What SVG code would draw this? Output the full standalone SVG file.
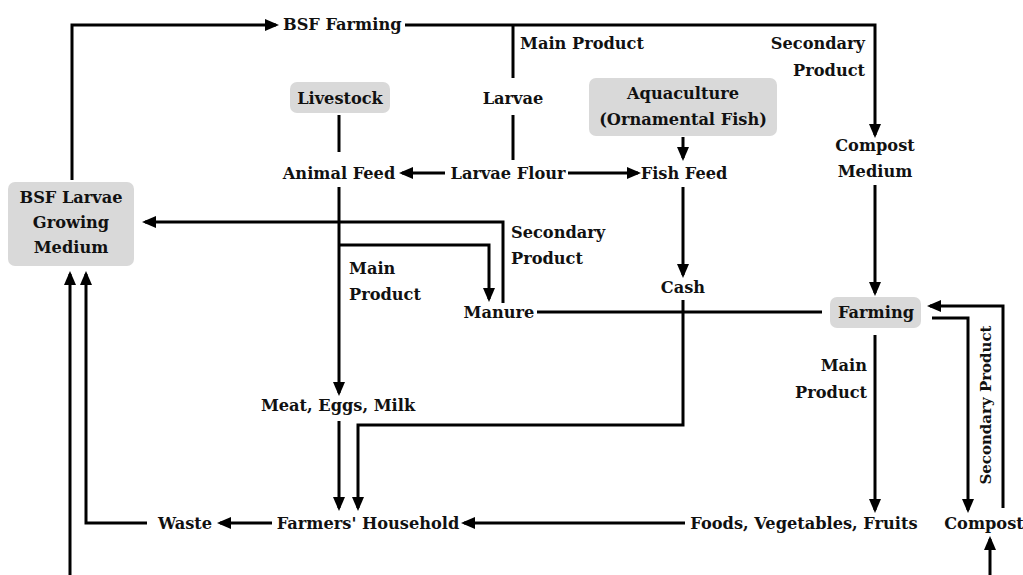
<svg xmlns="http://www.w3.org/2000/svg" width="1023" height="575" viewBox="0 0 1023 575">
<style>
text{font-family:"DejaVu Serif","Liberation Serif",serif;font-weight:bold;font-size:16.2px;fill:#111}
.m{text-anchor:middle}.e{text-anchor:end}
.box{fill:#d9d9d9}
.c path{fill:none;stroke:#000;stroke-width:3}
.a{marker-end:url(#ah)}
</style>
<defs>
<marker id="ah" markerUnits="userSpaceOnUse" markerWidth="14" markerHeight="13" refX="11" refY="6.5" orient="auto">
<path d="M0,0.5 L14,6.5 L0,12.5 z" fill="#000"/>
</marker>
</defs>
<rect width="1023" height="575" fill="#fff"/>
<g class="c" id="connectors">
<path class="a" d="M72,180 V25 H276"/>
<path class="a" d="M405,25 H875 V135"/>
<path d="M513,25 V78"/>
<path d="M513,115 V160"/>
<path class="a" d="M445,173 H402"/>
<path class="a" d="M568,173 H638"/>
<path d="M339,115 V152"/>
<path class="a" d="M339,187 V393"/>
<path class="a" d="M339,245 H489 V299"/>
<path class="a" d="M503,303 V222 H145"/>
<path d="M537,312 H822"/>
<path class="a" d="M683,137 V158"/>
<path class="a" d="M683,187 V275"/>
<path class="a" d="M683,300 V425 H358 V508"/>
<path class="a" d="M339,421 V508"/>
<path class="a" d="M685,523 H464"/>
<path class="a" d="M272,523 H220"/>
<path class="a" d="M147,523 H86 V274"/>
<path class="a" d="M70,575 V274"/>
<path class="a" d="M875,185 V293"/>
<path class="a" d="M875,335 V510"/>
<path class="a" d="M932,318 H968 V510"/>
<path class="a" d="M1003,508 V306 H930"/>
<path class="a" d="M990,575 V539"/>
</g>
<g id="labels">
<text x="520" y="49">Main Product</text>
<text class="e" x="865" y="49">Secondary</text>
<text class="e" x="865" y="76">Product</text>
<text x="511" y="238">Secondary</text>
<text x="511" y="264">Product</text>
<text x="349" y="274">Main</text>
<text x="349" y="300">Product</text>
<text class="e" x="867" y="371">Main</text>
<text class="e" x="867" y="398">Product</text>
<text class="m" style="font-size:15px" transform="translate(990.5,405) rotate(-90)">Secondary Product</text>
</g>
<g id="bsf-farming"><text x="283" y="30">BSF Farming</text></g>
<g id="bsf-larvae-medium">
<rect class="box" x="8" y="182" width="126" height="84" rx="7"/>
<text class="m" x="71" y="203">BSF Larvae</text>
<text class="m" x="71" y="228">Growing</text>
<text class="m" x="71" y="253">Medium</text>
</g>
<g id="livestock">
<rect class="box" x="290" y="82" width="100" height="31" rx="7"/>
<text class="m" x="340" y="104">Livestock</text>
</g>
<g id="larvae"><text class="m" x="513" y="104">Larvae</text></g>
<g id="aquaculture">
<rect class="box" x="589" y="78" width="188" height="58" rx="7"/>
<text class="m" x="683" y="99">Aquaculture</text>
<text class="m" x="683" y="125">(Ornamental Fish)</text>
</g>
<g id="compost-medium">
<text class="m" x="875" y="151">Compost</text>
<text class="m" x="875" y="177">Medium</text>
</g>
<g id="animal-feed"><text class="m" x="339" y="179">Animal Feed</text></g>
<g id="larvae-flour"><text class="m" x="508" y="179">Larvae Flour</text></g>
<g id="fish-feed"><text class="m" x="684" y="179">Fish Feed</text></g>
<g id="cash"><text class="m" x="683" y="293">Cash</text></g>
<g id="manure"><text class="m" x="499" y="318">Manure</text></g>
<g id="farming">
<rect class="box" x="830" y="297" width="91" height="31" rx="7"/>
<text class="m" x="876" y="318">Farming</text>
</g>
<g id="meat"><text class="m" x="338" y="411">Meat, Eggs, Milk</text></g>
<g id="waste"><text class="m" x="185" y="529">Waste</text></g>
<g id="household"><text class="m" x="368" y="529">Farmers' Household</text></g>
<g id="foods"><text class="m" x="804" y="529">Foods, Vegetables, Fruits</text></g>
<g id="compost"><text class="m" x="984" y="529">Compost</text></g>
</svg>
